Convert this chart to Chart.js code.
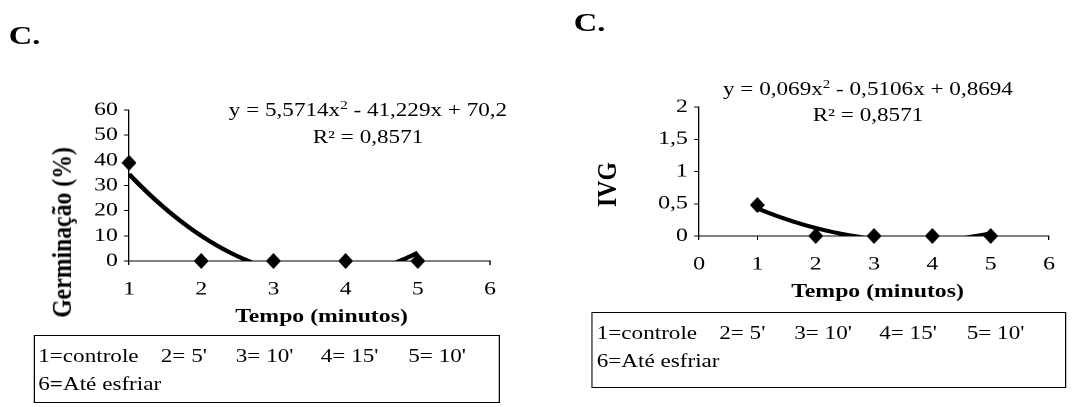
<!DOCTYPE html>
<html>
<head>
<meta charset="utf-8">
<script src="https://cdn.jsdelivr.net/npm/chart.js@4.4.0/dist/chart.umd.min.js"></script>
<style>
  body { margin: 0; background: #fff; overflow: hidden; }
  /* the source figure has its type stretched sideways, so lay out narrow and widen */
  #stage { position: relative; width: 871.2px; height: 407px; transform: scaleX(1.25); transform-origin: 0 0;
           font-family: 'Liberation Serif', 'Times New Roman', serif; color: #000; }
  #stage canvas { position: absolute; top: 0; }
  .panel { position: absolute; font-weight: bold; font-size: 26px; line-height: 26px; white-space: nowrap; }
  .eq { position: absolute; width: 300px; text-align: center; font-size: 18.5px; line-height: 26.6px; white-space: nowrap; }
  .eq sup { font-size: 12px; line-height: 0; vertical-align: 7px; }
  .xt { position: absolute; width: 200px; text-align: center; font-weight: bold; font-size: 19px; line-height: 19px; white-space: nowrap; }
  .yt { position: absolute; width: 200px; height: 21px; text-align: center; font-weight: bold; font-size: 21px; line-height: 21px;
        white-space: nowrap; transform: rotate(-90deg) scale(1.13, 1); }
  .key { position: absolute; border: 1.5px solid #000; box-sizing: border-box; font-size: 18.5px; line-height: 18.5px; }
  .key span { position: absolute; white-space: nowrap; }
</style>
</head>
<body>
<div id="stage">
  <canvas id="germChart" width="436" height="407" style="left:0"></canvas>
  <canvas id="ivgChart" width="435" height="407" style="left:436px"></canvas>

  <div class="panel" style="left:7px;top:22.7px">C.</div>
  <div class="panel" style="left:459px;top:9.7px">C.</div>

  <div class="eq" style="left:144.4px;top:97.3px">y = 5,5714x<sup>2</sup> - 41,229x + 70,2<br>R² = 0,8571</div>
  <div class="eq" style="left:544.4px;top:75.6px">y = 0,069x<sup>2</sup> - 0,5106x + 0,8694<br>R² = 0,8571</div>

  <div class="xt" style="left:157.2px;top:305.8px">Tempo (minutos)</div>
  <div class="xt" style="left:602px;top:280.8px">Tempo (minutos)</div>
  <div class="yt" style="left:-50.5px;top:222px">Germinação (%)</div>
  <div class="yt" style="left:386px;top:173.5px">IVG</div>

  <div class="key" id="keyGerm" style="left:26.6px;top:335px;width:373.4px;height:68px"></div>
  <div class="key" id="keyIvg" style="left:473.4px;top:311.7px;width:380px;height:76.6px"></div>
</div>

<script>
const tempo = [1, 2, 3, 4, 5];
const germinacao = [39, 0, 0, 0, 0];
const ivg = [0.48, 0, 0, 0, 0];
// polynomial trendline coefficients as printed on the charts (a, b, c)
const germTrend = [5.5714, -41.229, 70.2];
const ivgTrend = [0.069, -0.5106, 0.8694];
const keyRow = ["1=controle", "2= 5'", "3= 10'", "4= 15'", "5= 10'"];
const keyLast = "6=Até esfriar";

const keyLeft = [3, 101, 161, 229, 299];

function fillKey(id, boldEq) {
  const box = document.getElementById(id);
  keyRow.forEach((t, i) => {
    const s = document.createElement("span");
    s.textContent = t;
    s.style.left = keyLeft[i] + "px";
    s.style.top = "11.3px";
    box.appendChild(s);
  });
  const s = document.createElement("span");
  if (boldEq) {
    s.innerHTML = keyLast.replace("=", "<b>=</b>");
  } else {
    s.textContent = keyLast;
  }
  s.style.left = keyLeft[0] + "px";
  s.style.top = "39px";
  box.appendChild(s);
}
fillKey("keyGerm", true);
fillKey("keyIvg", false);

// diamond marker, narrower than tall so it comes out square-ish after the stretch
function diamond(w, h) {
  const c = document.createElement("canvas");
  c.width = w * 4;
  c.height = h * 4;
  const g = c.getContext("2d");
  g.fillStyle = "#000";
  g.beginPath();
  g.moveTo(c.width / 2, 0);
  g.lineTo(c.width, c.height / 2);
  g.lineTo(c.width / 2, c.height);
  g.lineTo(0, c.height / 2);
  g.closePath();
  g.fill();
  const img = new Image(w, h);
  img.src = c.toDataURL();
  return img;
}

const trendPlugin = {
  id: "trend",
  beforeDatasetsDraw(chart, args, opts) {
    const { ctx, chartArea, scales } = chart;
    const [a, b, c] = opts.coef;
    ctx.save();
    ctx.beginPath();
    ctx.rect(chartArea.left, chartArea.top, chartArea.width, chartArea.height);
    ctx.clip();
    ctx.beginPath();
    const n = 200;
    for (let i = 0; i <= n; i++) {
      const xv = opts.from + (opts.to - opts.from) * i / n;
      const yv = a * xv * xv + b * xv + c;
      const px = scales.x.getPixelForValue(xv);
      const py = scales.y.getPixelForValue(yv);
      if (i === 0) ctx.moveTo(px, py); else ctx.lineTo(px, py);
    }
    ctx.lineWidth = 4;
    ctx.strokeStyle = "#000";
    ctx.lineJoin = "round";
    ctx.stroke();
    ctx.restore();
  }
};

const tickFont = { family: "'Liberation Serif', 'Times New Roman', serif", size: 19, lineHeight: 1 };

function makeChart(id, values, coef, xMin, yMax, yStep, yWidth, padding, marker) {
  return new Chart(document.getElementById(id), {
    type: "scatter",
    data: {
      datasets: [{
        data: tempo.map((t, i) => ({ x: t, y: values[i] })),
        pointStyle: marker,
        pointRadius: 8,
        backgroundColor: "#000",
        borderColor: "#000",
        clip: false
      }]
    },
    options: {
      responsive: false,
      devicePixelRatio: 2,
      animation: false,
      layout: { padding: padding },
      plugins: {
        legend: { display: false },
        tooltip: { enabled: false },
        trend: { coef: coef, from: 1, to: 5 }
      },
      scales: {
        x: {
          type: "linear",
          min: xMin,
          max: 6,
          ticks: { stepSize: 1, autoSkip: false, color: "#000", font: tickFont, padding: 15 },
          grid: { drawOnChartArea: false, color: "#000", tickLength: 4 },
          border: { color: "#000", width: 1 },
          afterFit: (s) => { s.height = 40; }
        },
        y: {
          min: 0,
          max: yMax,
          ticks: {
            stepSize: yStep,
            autoSkip: false,
            color: "#000",
            font: tickFont,
            padding: 5,
            callback: (v) => String(v).replace(".", ",")
          },
          grid: { drawOnChartArea: false, color: "#000", tickLength: 4 },
          border: { color: "#000", width: 1 },
          afterFit: (s) => { s.width = yWidth; }
        }
      }
    },
    plugins: [trendPlugin]
  });
}

const marker = diamond(12, 16);
marker.onload = () => {
  makeChart("germChart", germinacao, germTrend, 1, 60, 10, 103.2,
    { top: 110, right: 44, bottom: 106, left: 0 }, marker);
  makeChart("ivgChart", ivg, ivgTrend, 0, 2, 0.5, 123.2,
    { top: 107, right: 31.8, bottom: 131, left: 0 }, marker);
};
</script>
</body>
</html>
